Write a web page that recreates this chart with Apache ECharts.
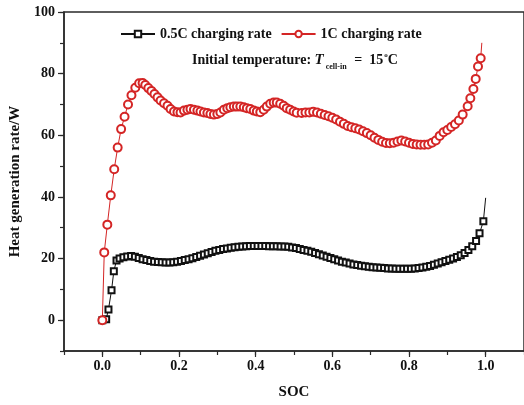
<!DOCTYPE html>
<html>
<head>
<meta charset="utf-8">
<script src="https://cdn.jsdelivr.net/npm/echarts@6/dist/echarts.min.js"></script>
<style>
html,body{margin:0;padding:0;background:#fff;}
#chart{width:524px;height:405px;}
</style>
</head>
<body>
<div id="chart"></div>
<script>
// 0.5C charging rate
var socHalfC = [0, 0.01, 0.016, 0.024, 0.03, 0.037,
  0.045, 0.055, 0.065, 0.075, 0.085, 0.095, 0.105, 0.115, 0.125, 0.135, 0.145, 0.155, 0.165, 0.175, 0.185, 0.195,
  0.205, 0.215, 0.225, 0.235, 0.245, 0.255, 0.265, 0.275, 0.285, 0.295, 0.305, 0.315, 0.325, 0.335, 0.345, 0.355,
  0.365, 0.375, 0.385, 0.395, 0.405, 0.415, 0.425, 0.435, 0.445, 0.455, 0.465, 0.475, 0.485, 0.495, 0.505, 0.515,
  0.525, 0.535, 0.545, 0.555, 0.565, 0.575, 0.585, 0.595, 0.605, 0.615, 0.625, 0.635, 0.645, 0.655, 0.665, 0.675,
  0.685, 0.695, 0.705, 0.715, 0.725, 0.735, 0.745, 0.755, 0.765, 0.775, 0.785, 0.795, 0.805, 0.815, 0.825, 0.835,
  0.845, 0.855, 0.865, 0.875, 0.885, 0.895, 0.905, 0.915, 0.925, 0.935, 0.945, 0.955, 0.965, 0.975, 0.984, 0.994, 1.0];
var heatHalfC = [0, 0.3, 3.5, 9.7, 15.9, 19.4,
  20.0, 20.4, 20.7, 20.8, 20.6, 20.2, 19.8, 19.5, 19.2, 19.0, 18.9, 18.8, 18.7, 18.7, 18.8, 19.0,
  19.2, 19.5, 19.8, 20.1, 20.5, 20.9, 21.3, 21.7, 22.1, 22.5, 22.8, 23.1, 23.3, 23.5, 23.7, 23.8,
  23.9, 24.0, 24.1, 24.1, 24.1, 24.1, 24.1, 24.0, 24.0, 24.0, 23.9, 23.9, 23.8, 23.6, 23.4, 23.1,
  22.8, 22.5, 22.2, 21.8, 21.4, 21.0, 20.6, 20.2, 19.8, 19.4, 19.0, 18.7, 18.4, 18.1, 17.9, 17.7,
  17.5, 17.3, 17.2, 17.1, 17.0, 16.9, 16.8, 16.8, 16.7, 16.7, 16.7, 16.7, 16.7, 16.8, 16.9, 17.1,
  17.3, 17.6, 18.0, 18.4, 18.8, 19.2, 19.6, 20.0, 20.5, 21.1, 21.8, 22.8, 24.0, 25.7, 28.2, 32.1, 39.7];

// 1C charging rate
var soc1C = [0, 0.005, 0.013, 0.022, 0.031, 0.04, 0.049, 0.058, 0.067, 0.076, 0.086, 0.096, 0.105,
  0.112, 0.12, 0.128, 0.136, 0.144, 0.152, 0.161, 0.17, 0.178, 0.187, 0.196, 0.204, 0.213, 0.222, 0.23,
  0.239, 0.248, 0.256, 0.265, 0.274, 0.282, 0.291, 0.3, 0.308, 0.317, 0.326, 0.334, 0.343, 0.351, 0.36,
  0.369, 0.377, 0.386, 0.395, 0.403, 0.412, 0.421, 0.429, 0.438, 0.447, 0.455, 0.464, 0.473, 0.481, 0.49,
  0.499, 0.507, 0.52, 0.53, 0.54, 0.55, 0.56, 0.57, 0.58, 0.59, 0.6, 0.61, 0.62, 0.63, 0.64, 0.65, 0.66,
  0.67, 0.68, 0.69, 0.7, 0.71, 0.72, 0.73, 0.74, 0.75, 0.76, 0.77, 0.78, 0.79, 0.8, 0.81, 0.82, 0.83,
  0.84, 0.85, 0.86, 0.87, 0.88, 0.89, 0.9, 0.91, 0.92, 0.93, 0.94, 0.953, 0.96, 0.968, 0.974, 0.98, 0.987, 0.99];
var heat1C = [0, 22, 31, 40.5, 49, 56, 62, 66, 70, 73, 75.4, 76.9, 77.0,
  76.3, 75.3, 74.4, 73.4, 72.3, 71.3, 70.4, 69.6, 68.5, 67.7, 67.5, 67.4, 68.0, 68.3, 68.5,
  68.3, 68.0, 67.7, 67.4, 67.2, 66.9, 66.7, 66.9, 67.4, 68.3, 68.8, 69.1, 69.3, 69.3, 69.3,
  69.1, 68.8, 68.5, 68.0, 67.7, 67.5, 68.3, 69.3, 70.2, 70.6, 70.6, 70.2, 69.6, 68.8, 68.3,
  67.7, 67.3, 67.2, 67.4, 67.4, 67.6, 67.4, 67.0, 66.6, 66.2, 65.7, 65.1, 64.4, 63.7, 63.0, 62.6, 62.3,
  61.9, 61.3, 60.7, 60.0, 59.2, 58.5, 57.9, 57.5, 57.4, 57.6, 58.0, 58.3, 58.0, 57.6, 57.2, 57.0, 56.9,
  56.9, 57.0, 57.6, 58.3, 59.8, 61.0, 61.7, 62.7, 63.6, 64.8, 66.7, 69.4, 72.0, 75.0, 78.3, 82.3, 85.0, 90.0];

var xLabels = [0, 0.2, 0.4, 0.6, 0.8, 1.0];
var yLabels = [0, 20, 40, 60, 80, 100];

var seriesNames = ['0.5C charging rate', '1C charging rate'];

function pairs(xs, ys, lastNoSymbol) {
  return xs.map(function (x, i) {
    if (lastNoSymbol && i === xs.length - 1) return { value: [x, ys[i]], symbol: 'none' };
    return [x, ys[i]];
  });
}

var FONT = '"Liberation Serif", "Times New Roman", serif';
var AXC = '#2a2a2a';

var chart = echarts.init(document.getElementById('chart'), null, { renderer: 'canvas' });
chart.setOption({
  animation: false,
  backgroundColor: '#fff',
  grid: { left: 64, top: 12, width: 462.5, height: 340, show: true, borderColor: AXC, borderWidth: 1.5, backgroundColor: 'transparent' },
  legend: {
    left: 120, top: 27, padding: 0,
    itemWidth: 34, itemHeight: 8, itemGap: 9,
    textStyle: { fontFamily: FONT, fontWeight: 'bold', fontSize: 14, color: '#111' },
    data: seriesNames
  },
  graphic: [{
    type: 'text', left: 192, top: 49,
    style: {
      text: '{a|Initial temperature: }{i|T}{s|cell-in}{a| =  15}{o|o}{a|C}',
      rich: {
        a: { fontFamily: FONT, fontWeight: 'bold', fontSize: 14, fill: '#111', lineHeight: 22, verticalAlign: 'middle' },
        i: { fontFamily: FONT, fontWeight: 'bold', fontStyle: 'italic', fontSize: 15, fill: '#111', lineHeight: 22, verticalAlign: 'middle', padding: [0, 2, 0, 0] },
        s: { fontFamily: FONT, fontWeight: 'bold', fontSize: 8, fill: '#111', lineHeight: 22, verticalAlign: 'bottom', padding: [0, 4, 0, 0] },
        o: { fontFamily: FONT, fontWeight: 'bold', fontSize: 7, fill: '#111', lineHeight: 22, verticalAlign: 'top', padding: [3, 0, 0, 1] }
      }
    }
  }],
  xAxis: [{
    type: 'value', min: -0.1, max: 1.1,
    name: 'SOC', nameLocation: 'middle', nameGap: 34,
    nameTextStyle: { fontFamily: FONT, fontWeight: 'bold', fontSize: 15, color: '#111' },
    axisLine: { show: true, onZero: false, lineStyle: { color: AXC, width: 1.5 } },
    axisTick: { show: true, inside: false, length: 6, customValues: xLabels, lineStyle: { color: AXC, width: 1.2 } },
    axisLabel: { customValues: xLabels, margin: 8, fontFamily: FONT, fontWeight: 'bold', fontSize: 14, color: '#111',
      formatter: function (v) { return v.toFixed(1); } },
    splitLine: { show: false }
  }, {
    type: 'value', min: -0.1, max: 1.1, interval: 0.1, position: 'bottom',
    axisLine: { show: false, onZero: false },
    axisTick: { show: true, inside: false, length: 4, lineStyle: { color: AXC, width: 1.2 } },
    axisLabel: { show: false },
    splitLine: { show: false }
  }],
  yAxis: [{
    type: 'value', min: -10, max: 100,
    name: 'Heat generation rate/W', nameLocation: 'middle', nameGap: 40, nameRotate: 90,
    nameTextStyle: { fontFamily: FONT, fontWeight: 'bold', fontSize: 15, color: '#111' },
    axisLine: { show: true, onZero: false, lineStyle: { color: AXC, width: 1.5 } },
    axisTick: { show: true, inside: false, length: 6, customValues: yLabels, lineStyle: { color: AXC, width: 1.2 } },
    axisLabel: { customValues: yLabels, margin: 9, fontFamily: FONT, fontWeight: 'bold', fontSize: 14, color: '#111' },
    splitLine: { show: false }
  }, {
    type: 'value', min: -10, max: 100, interval: 10, position: 'left',
    axisLine: { show: false, onZero: false },
    axisTick: { show: true, inside: false, length: 4, lineStyle: { color: AXC, width: 1.2 } },
    axisLabel: { show: false },
    splitLine: { show: false }
  }],
  series: [{
    name: seriesNames[0], type: 'line', xAxisIndex: 0, yAxisIndex: 0,
    data: pairs(socHalfC, heatHalfC, true),
    symbol: 'emptyRect', symbolSize: 6, showAllSymbol: true,
    lineStyle: { color: '#111', width: 1 },
    itemStyle: { color: '#111', borderWidth: 1 }
  }, {
    name: seriesNames[1], type: 'line', xAxisIndex: 0, yAxisIndex: 0,
    data: pairs(soc1C, heat1C, true),
    symbol: 'emptyCircle', symbolSize: 8, showAllSymbol: true,
    lineStyle: { color: '#d42525', width: 1 },
    itemStyle: { color: '#d42525', borderWidth: 1 }
  }]
});
</script>
</body>
</html>
